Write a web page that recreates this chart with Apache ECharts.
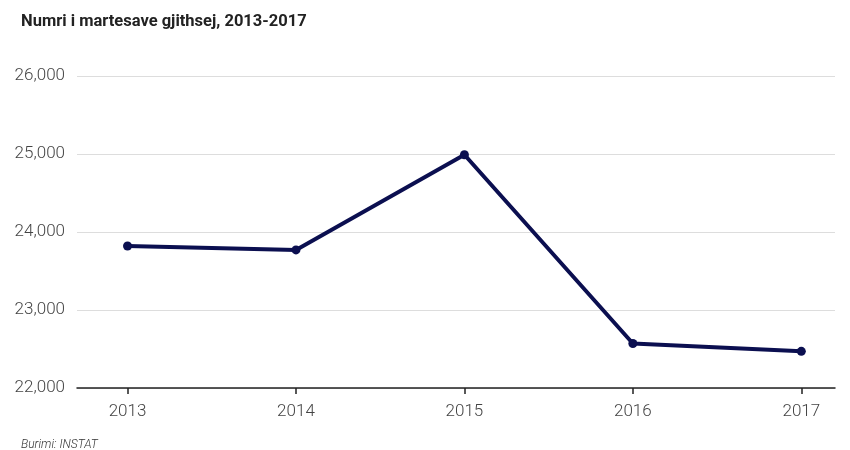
<!DOCTYPE html>
<html><head><meta charset="utf-8">
<script src="https://cdn.jsdelivr.net/npm/echarts@6/dist/echarts.min.js"></script>
<style>html,body{margin:0;padding:0;background:#fff}#c{width:850px;height:450px}</style>
</head><body><div id="c"></div>
<script>
const years = [2013, 2014, 2015, 2016, 2017];
const values = [23820, 23770, 24990, 22570, 22470];
const yTicks = [22000, 23000, 24000, 25000, 26000];
const titleText = 'Numri i martesave gjithsej, 2013-2017';
const sourceText = 'Burimi: INSTAT';

const font = 'Roboto, sans-serif';
const chart = echarts.init(document.getElementById('c'));
chart.setOption({
  animation: false,
  title: [
    { text: titleText, left: 16, top: 8, textStyle: { fontFamily: font, fontSize: 16.5, fontWeight: 'bold', color: '#222' } },
    { text: sourceText, left: 16, top: 434, textStyle: { fontFamily: font, fontSize: 12, fontStyle: 'italic', fontWeight: 300, color: '#333' } }
  ],
  grid: { left: 77, right: 15, top: 76, bottom: 62, containLabel: false },
  xAxis: {
    type: 'value', min: 2012.7, max: 2017.2,
    axisLine: { show: true, lineStyle: { color: '#222', width: 1.5 } },
    axisTick: { show: true, customValues: years, length: 6, lineStyle: { color: '#222', width: 1.5 } },
    axisLabel: { customValues: years, formatter: v => String(v), fontFamily: font, fontSize: 17, fontWeight: 300, color: '#444', margin: 15 },
    splitLine: { show: false }
  },
  yAxis: {
    type: 'value', min: yTicks[0], max: yTicks[yTicks.length - 1], interval: 1000,
    axisLine: { show: false }, axisTick: { show: false },
    axisLabel: { formatter: v => v.toLocaleString('en-US'), fontFamily: font, fontSize: 17, fontWeight: 300, color: '#444', margin: 12 },
    splitLine: { lineStyle: { color: '#ddd', width: 1 } }
  },
  series: [{
    type: 'line',
    data: years.map((y, i) => [y, values[i]]),
    lineStyle: { color: '#0b0f50', width: 4 },
    itemStyle: { color: '#0b0f50' },
    symbol: 'circle', symbolSize: 9, showSymbol: true
  }]
});
</script></body></html>
